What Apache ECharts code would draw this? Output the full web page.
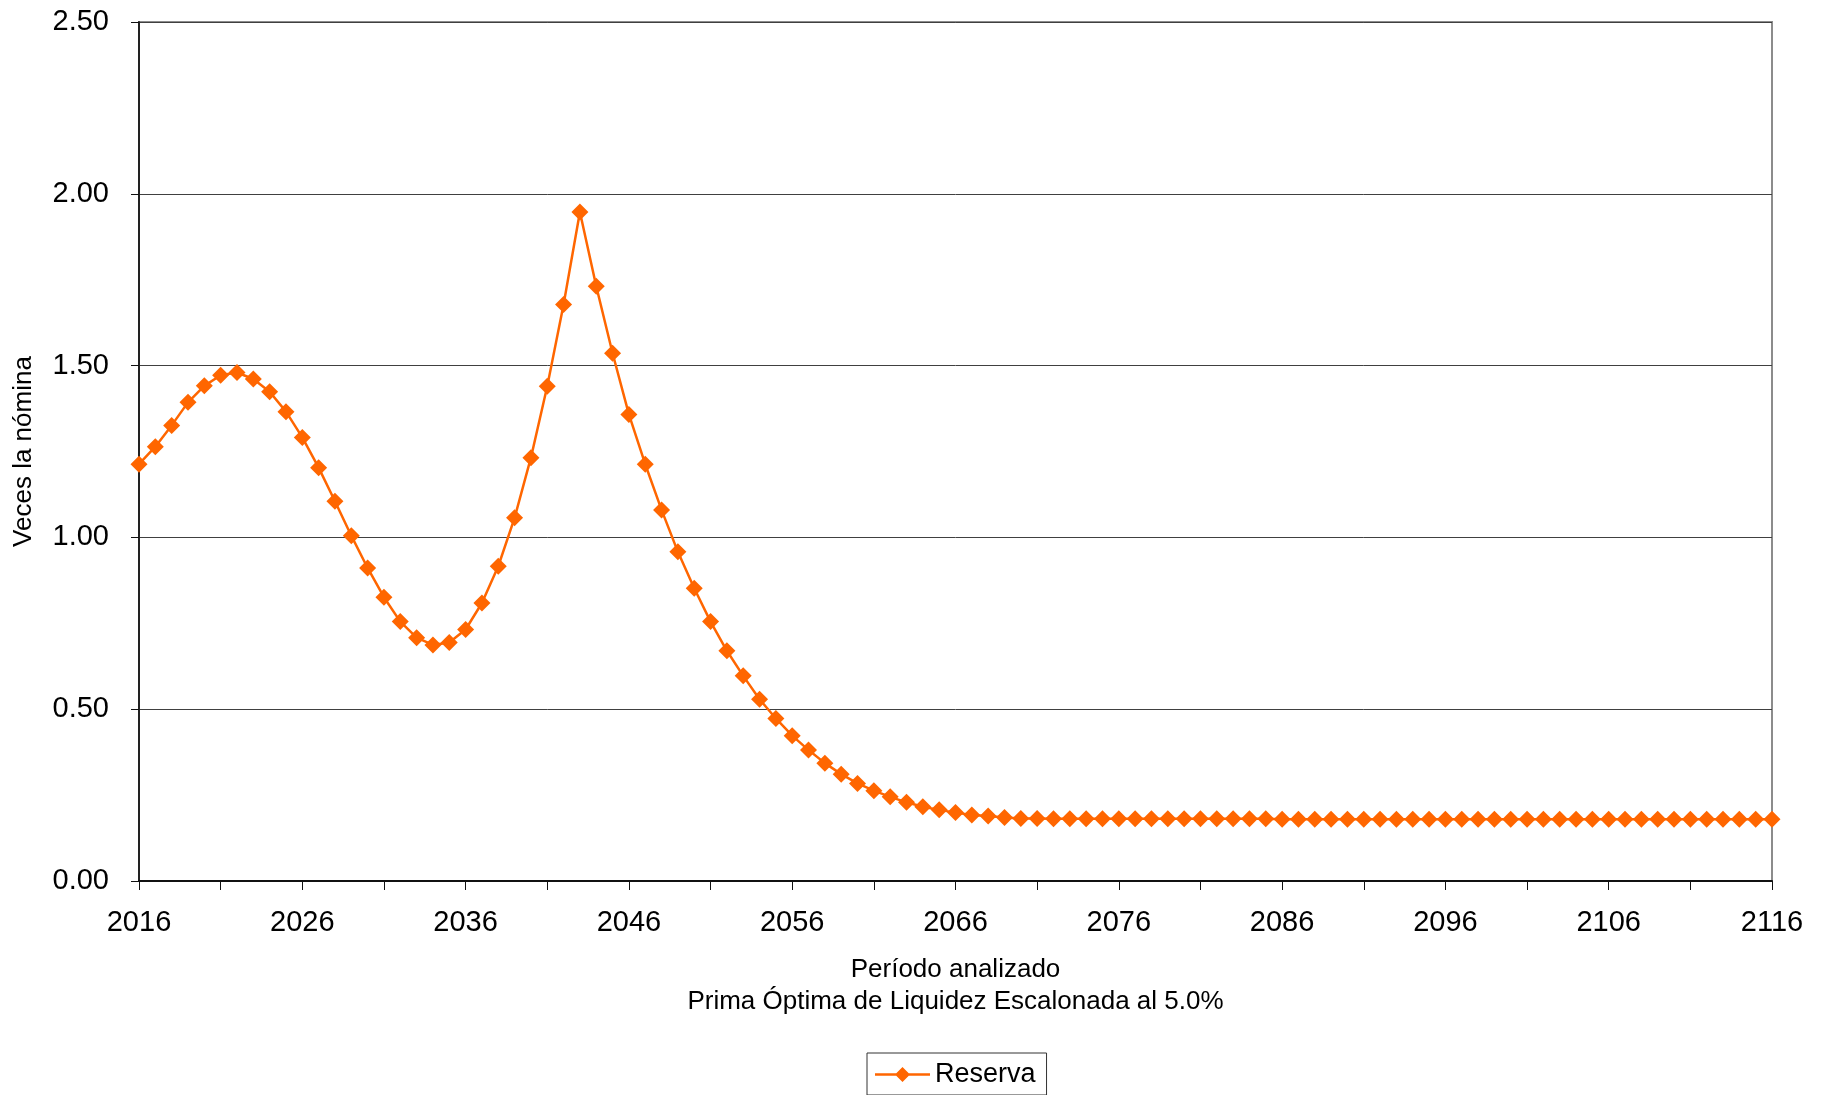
<!DOCTYPE html>
<html>
<head>
<meta charset="utf-8">
<title>Reserva</title>
<script src="https://cdn.jsdelivr.net/npm/echarts@6/dist/echarts.min.js"></script>
<style>
  html, body { margin: 0; padding: 0; background: #fff; }
  #chart { width: 1829px; height: 1095px; }
</style>
</head>
<body>
<div id="chart"></div>
<script>
// años del período analizado
var years = [];
for (var y = 2016; y <= 2116; y++) {
    years.push(String(y));
}

// veces la nómina
var reserva = [
    1.213, 1.264, 1.326, 1.393, 1.441, 1.472, 1.480, 1.461, 1.424, 1.366,
    1.291, 1.203, 1.105, 1.005, 0.911, 0.826, 0.755, 0.708, 0.687, 0.694,
    0.732, 0.809, 0.916, 1.057, 1.232, 1.440, 1.678, 1.947, 1.731, 1.536,
    1.358, 1.213, 1.080, 0.958, 0.852, 0.755, 0.670, 0.597, 0.529, 0.473,
    0.423, 0.381, 0.343, 0.311, 0.284, 0.263, 0.245, 0.229, 0.216, 0.207,
    0.199, 0.192, 0.189, 0.185, 0.182, 0.182, 0.181, 0.181, 0.181, 0.181,
    0.181, 0.181, 0.181, 0.181, 0.181, 0.181, 0.181, 0.181, 0.181, 0.181,
    0.180, 0.180, 0.180, 0.180, 0.180, 0.180, 0.180, 0.180, 0.180, 0.180,
    0.180, 0.180, 0.180, 0.180, 0.180, 0.180, 0.180, 0.180, 0.180, 0.180,
    0.180, 0.180, 0.180, 0.180, 0.180, 0.180, 0.180, 0.180, 0.180, 0.180,
    0.180
];

var yTicks = [0, 0.5, 1.0, 1.5, 2.0, 2.5];

var font = '"Liberation Sans", Arial, sans-serif';

// icono de leyenda: línea con rombo al centro
var legendIcon = 'path://M0,6.3L55,6.3L55,8.7L0,8.7Z M27.5,0L35,7.5L27.5,15L20,7.5Z';

var myChart = echarts.init(document.getElementById('chart'));

var option = {
    backgroundColor: '#fff',
    animation: false,
    textStyle: { fontFamily: font, color: '#000' },
    grid: {
        left: 139,
        right: 57,
        top: 22,
        bottom: 214,
        show: true,
        borderColor: '#8c8c8c',
        borderWidth: 2
    },
    legend: {
        left: 867,
        top: 1053,
        data: [{ name: 'Reserva', icon: legendIcon }],
        itemWidth: 55,
        itemHeight: 15,
        padding: [8, 11, 7, 8],
        borderColor: '#333',
        borderWidth: 1,
        textStyle: { fontSize: 27, color: '#000', fontFamily: font }
    },
    xAxis: {
        type: 'category',
        data: years,
        boundaryGap: false,
        name: 'Período analizado\nPrima Óptima de Liquidez Escalonada al 5.0%',
        nameLocation: 'middle',
        nameGap: 73,
        nameTextStyle: { fontSize: 26, lineHeight: 32, color: '#000', fontFamily: font },
        axisLine: { lineStyle: { color: '#111', width: 2 } },
        axisTick: { show: true, interval: 4, length: 9, lineStyle: { color: '#111', width: 1 } },
        axisLabel: { interval: 9, fontSize: 29, color: '#000', margin: 27, fontFamily: font },
        splitLine: { show: false }
    },
    yAxis: {
        type: 'value',
        min: yTicks[0],
        max: yTicks[yTicks.length - 1],
        interval: 0.5,
        name: 'Veces la nómina',
        nameLocation: 'middle',
        nameRotate: 90,
        nameGap: 102,
        nameTextStyle: { fontSize: 26, color: '#000', fontFamily: font },
        axisLine: { show: true, lineStyle: { color: '#222', width: 2 } },
        axisTick: { show: true, length: 8, lineStyle: { color: '#111', width: 1 } },
        axisLabel: {
            fontSize: 29,
            color: '#000',
            margin: 30,
            fontFamily: font,
            formatter: function (v) { return v.toFixed(2); }
        },
        splitLine: { show: true, lineStyle: { color: '#404040', width: 1 } }
    },
    series: [
        {
            name: 'Reserva',
            type: 'line',
            data: reserva,
            symbol: 'diamond',
            symbolSize: 17,
            showAllSymbol: true,
            color: '#ff6600',
            lineStyle: { color: '#ff6600', width: 2.5 },
            itemStyle: { color: '#ff6600' }
        }
    ]
};

myChart.setOption(option);
</script>
</body>
</html>
